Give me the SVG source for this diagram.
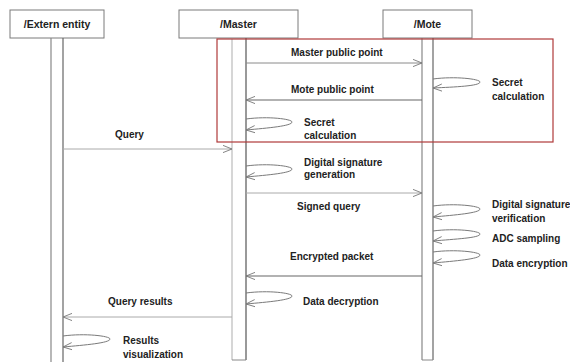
<svg xmlns="http://www.w3.org/2000/svg" width="570" height="362" viewBox="0 0 570 362">
<style>
.hdr{fill:#fff;stroke:#7a7a7a;stroke-width:1}
.ht{font-family:"Liberation Sans",Arial,sans-serif;font-weight:bold;font-size:10.5px;fill:#222;text-anchor:middle}
.lbl{font-family:"Liberation Sans",Arial,sans-serif;font-weight:bold;font-size:10px;fill:#222}
.msg{fill:none;stroke:#8a8a8a;stroke-width:1;marker-end:url(#arr)}
.msgd{fill:none;stroke:#666;stroke-width:1.2;marker-end:url(#arr)}
.msgl{fill:none;stroke:#aaa;stroke-width:1;marker-end:url(#arr)}
.loop{fill:none;stroke:#7a7a7a;stroke-width:1;marker-end:url(#arr)}
</style>
<defs>
<marker id="arr" viewBox="0 0 10 10" refX="10" refY="5" markerWidth="9" markerHeight="9" orient="auto" markerUnits="userSpaceOnUse">
<path d="M0,1 L10,5 L0,9" fill="none" stroke="#777" stroke-width="1"/>
</marker>
</defs>
<rect width="570" height="362" fill="#fff"/>

<g id="extern">
<rect class="hdr" x="10" y="10" width="94" height="28"/>
<text class="ht" x="57" y="28">/Extern entity</text>
<line x1="51" y1="38" x2="51" y2="362" stroke="#888" stroke-width="1.2"/>
<line x1="63" y1="38" x2="63" y2="362" stroke="#666" stroke-width="1.2"/>
</g>

<g id="master">
<rect class="hdr" x="179" y="10" width="119" height="28"/>
<text class="ht" x="238.5" y="28">/Master</text>
<line x1="232" y1="38" x2="232" y2="360" stroke="#bbb" stroke-width="1.2"/>
<line x1="246" y1="38" x2="246" y2="360" stroke="#555" stroke-width="1.2"/>
<line x1="232" y1="360" x2="246" y2="360" stroke="#888" stroke-width="1"/>
</g>

<g id="mote">
<rect class="hdr" x="383" y="10" width="89" height="28"/>
<text class="ht" x="427.5" y="28">/Mote</text>
<line x1="422" y1="38" x2="422" y2="360" stroke="#888" stroke-width="1.2"/>
<line x1="433" y1="38" x2="433" y2="360" stroke="#666" stroke-width="1.2"/>
<line x1="422" y1="360" x2="433" y2="360" stroke="#888" stroke-width="1"/>
</g>

<g id="key-exchange-frame">
<rect x="217" y="39" width="336" height="103" fill="none" stroke="#b03a3a" stroke-width="1.2"/>
</g>

<g id="connectors">
<path class="msg" d="M246,63 L422,63"/>
<path class="msgd" d="M422,100 L246,100"/>
<path class="loop" d="M433,79 C455,76 480,79 480,82 C480,86 455,87 433,88"/>
<path class="loop" d="M246,119 C268,116 292,119 292,122 C292,126 268,128 246,130"/>
<path class="msgl" d="M63,149 L232,149"/>
<path class="loop" d="M246,166 C268,163 292,166 292,169 C292,173 268,175 246,177"/>
<path class="msgl" d="M246,193 L422,193"/>
<path class="loop" d="M433,206 C455,203 480,206 480,209 C480,213 455,215 433,217"/>
<path class="loop" d="M433,231 C455,228 480,231 480,234 C480,238 455,239 433,241"/>
<path class="loop" d="M433,252 C455,249 480,252 480,255 C480,259 455,261 433,263"/>
<path class="msgd" d="M422,276 L246,276"/>
<path class="loop" d="M246,293 C268,290 292,293 292,296 C292,300 268,302 246,304"/>
<path class="msgl" d="M232,317 L63,317"/>
<path class="loop" d="M63,336 C85,333 110,336 110,339 C110,343 85,345 63,347"/>
</g>

<g id="labels">
<text class="lbl" x="291" y="56">Master public point</text>
<text class="lbl" x="291" y="93">Mote public point</text>
<text class="lbl" x="492" y="86">Secret</text>
<text class="lbl" x="492" y="100">calculation</text>
<text class="lbl" x="304" y="126">Secret</text>
<text class="lbl" x="304" y="139">calculation</text>
<text class="lbl" x="115" y="138">Query</text>
<text class="lbl" x="304" y="166">Digital signature</text>
<text class="lbl" x="304" y="178">generation</text>
<text class="lbl" x="297" y="210">Signed query</text>
<text class="lbl" x="492" y="208">Digital signature</text>
<text class="lbl" x="492" y="222">verification</text>
<text class="lbl" x="492" y="242">ADC sampling</text>
<text class="lbl" x="492" y="267">Data encryption</text>
<text class="lbl" x="290" y="260">Encrypted packet</text>
<text class="lbl" x="303" y="305">Data decryption</text>
<text class="lbl" x="108" y="305">Query results</text>
<text class="lbl" x="123" y="344">Results</text>
<text class="lbl" x="123" y="358">visualization</text>
</g>
</svg>
